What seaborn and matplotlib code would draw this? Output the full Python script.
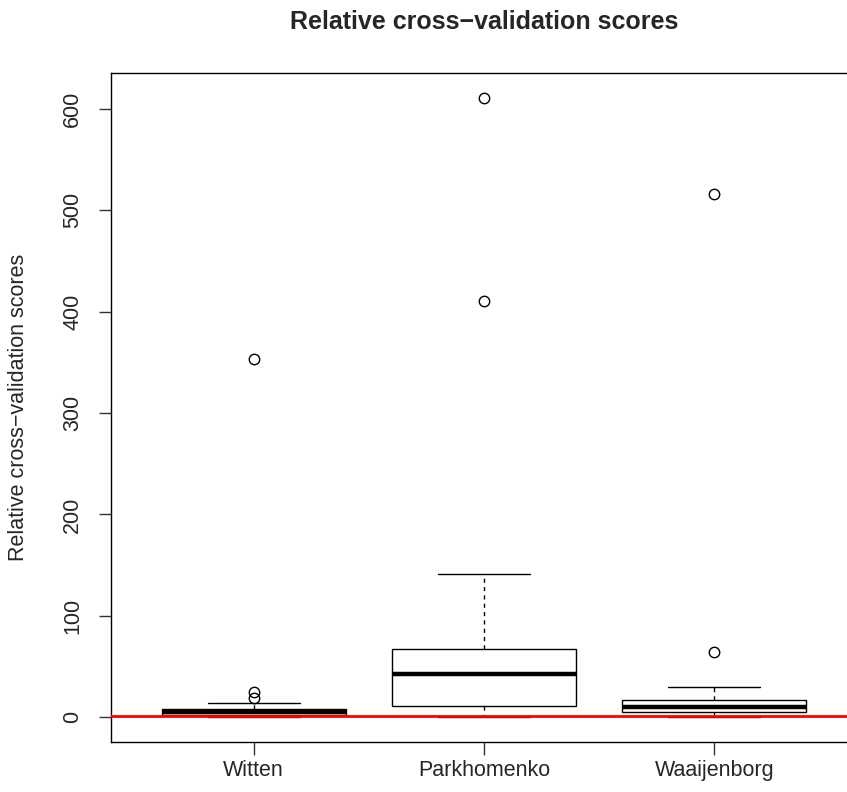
import numpy as np
import pandas as pd
import matplotlib
matplotlib.use("Agg")
import matplotlib.pyplot as plt
import seaborn as sns

methods = ["Witten", "Parkhomenko", "Waaijenborg"]
witten = [0.3, 0.8, 1.3, 1.8, 2.2, 3.0, 3.9, 4.7, 5.4, 6.0, 6.8, 7.5, 8.1, 14.0, 19.0, 24.5, 353.3]
parkhomenko = [0.6, 3.0, 6.0, 9.0, 11.4, 18.0, 26.0, 35.0, 43.0, 50.0, 56.0, 62.0, 67.7, 95.0, 141.1, 410.9, 610.9]
waaijenborg = [0.3, 1.5, 2.8, 3.9, 4.8, 6.2, 7.6, 9.0, 10.4, 12.0, 13.8, 15.6, 17.3, 22.0, 29.8, 64.0, 516.3]
ref_level = 1.0
yticks = [0, 100, 200, 300, 400, 500, 600]
title = "Relative cross\u2212validation scores"
ylabel = "Relative cross\u2212validation scores"

df = pd.DataFrame({
    "method": np.repeat(methods, [len(witten), len(parkhomenko), len(waaijenborg)]),
    "score": witten + parkhomenko + waaijenborg,
})

sns.set_theme(style="ticks")
plt.rcParams["font.family"] = ["Liberation Sans", "DejaVu Sans"]

W, H = 847, 792
fig = plt.figure(figsize=(W / 100, H / 100), dpi=100)
left_px, right_px, top_px, bottom_px = 111, 857, 73, 741.7
ax = fig.add_axes([left_px / W, 1 - bottom_px / H, (right_px - left_px) / W, (bottom_px - top_px) / H])

sns.boxplot(
    data=df, x="method", y="score", order=methods, ax=ax,
    width=0.8, whis=1.5, color="white", linecolor="black", linewidth=1.0,
    fill=True,
    boxprops=dict(facecolor="white", edgecolor="black", linewidth=1.0),
    medianprops=dict(color="black", linewidth=3.2, solid_capstyle="butt"),
    whiskerprops=dict(color="black", linewidth=1.0, linestyle=(0, (3, 3))),
    capprops=dict(color="black", linewidth=1.0),
    flierprops=dict(marker="o", markerfacecolor="none", markeredgecolor="black",
                    markersize=7.5, markeredgewidth=1.0),
)

ax.axhline(ref_level, color="red", linewidth=2.0, zorder=5)

lo, hi = df["score"].min(), df["score"].max()
pad = 0.04 * (hi - lo)
ax.set_ylim(lo - pad, hi + pad)
ax.set_xlim(-0.62, 2.62)

fs = 15.5
ax.set_yticks(yticks)
ax.set_yticklabels([str(t) for t in yticks], rotation=90, va="center", fontsize=fs)
ax.set_xticks(range(len(methods)))
ax.set_xticklabels(methods, fontsize=fs)
ax.tick_params(axis="both", direction="out", length=9, width=1.0, color="#333333")
ax.tick_params(axis="y", pad=11)
ax.tick_params(axis="x", pad=4)

for s in ax.spines.values():
    s.set_color("black")
    s.set_linewidth(1.0)
    s.set_visible(True)

ax.set_xlabel("")
ax.set_ylabel(ylabel, fontsize=fs)
ax.yaxis.set_label_coords((29 - left_px) / (right_px - left_px), 0.5)
fig.text(484 / W, 1 - 22 / H, title, ha="center", va="center", fontsize=18, fontweight="bold")

fig.savefig("out.png", dpi=100, facecolor="white")
